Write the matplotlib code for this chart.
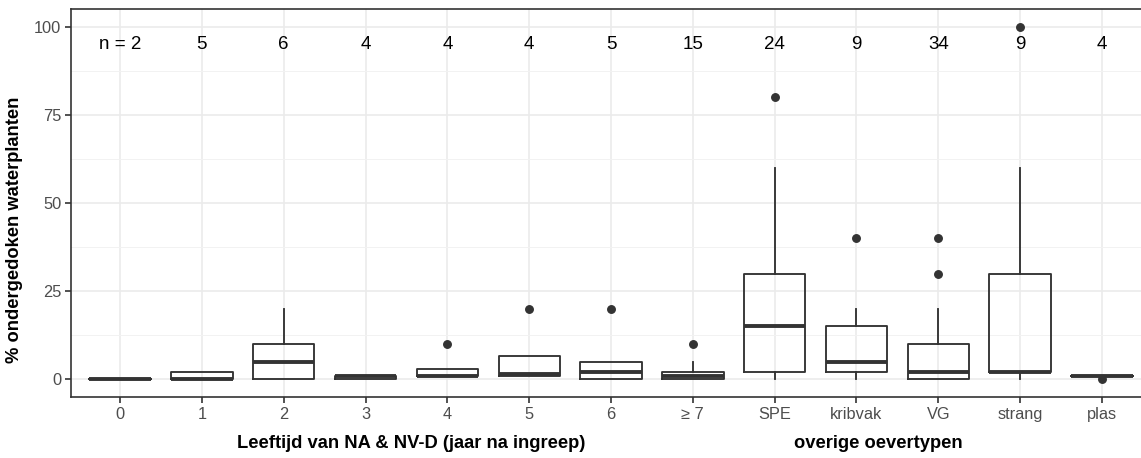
import matplotlib
matplotlib.use("Agg")
import matplotlib.pyplot as plt
from matplotlib.ticker import MultipleLocator

plt.rcParams["font.family"] = ["Liberation Sans", "DejaVu Sans"]

categories = ["0", "1", "2", "3", "4", "5", "6", "\u2265 7",
              "SPE", "kribvak", "VG", "strang", "plas"]
n_obs = [2, 5, 6, 4, 4, 4, 5, 15, 24, 9, 34, 9, 4]

# box statistics per category (% cover)
whis_lo = [0, 0, 0, 0, 1, 1, 0, 0, 0, 0, 0, 0, 1]
q1 = [0, 0, 0, 0, 1, 1, 0, 0, 2, 2, 0, 2, 1]
median = [0, 0, 5, 1, 1, 1.5, 2, 1, 15, 5, 2, 2, 1]
q3 = [0, 2, 10, 1, 3, 6.5, 5, 2, 30, 15, 10, 30, 1]
whis_hi = [0, 2, 20, 1, 3, 6.5, 5, 5, 60, 20, 20, 60, 1]
outliers = [[], [], [], [], [10], [20], [20], [10],
            [80], [40], [30, 40], [100], [0]]

stats = []
for i, lab in enumerate(categories):
    stats.append(dict(label=lab, whislo=whis_lo[i], q1=q1[i], med=median[i],
                      q3=q3[i], whishi=whis_hi[i], fliers=outliers[i]))

dark = "#333333"
fig = plt.figure(figsize=(11.41, 4.58), dpi=100)
# panel runs slightly past the right edge of the figure
ax = fig.add_axes([71 / 1141, 61 / 458, 1080 / 1141, 388 / 458])

positions = list(range(len(categories)))
ax.bxp(stats, positions=positions, widths=0.75, showcaps=False,
       patch_artist=False,
       boxprops=dict(color=dark, linewidth=1.35),
       whiskerprops=dict(color=dark, linewidth=1.35),
       medianprops=dict(color=dark, linewidth=2.8, solid_capstyle="butt"),
       flierprops=dict(marker="o", markersize=5.4, markerfacecolor=dark,
                       markeredgecolor=dark, linestyle="none"),
       zorder=3)

for i, n in enumerate(n_obs):
    txt = f"n = {n}" if i == 0 else str(n)
    ax.text(i, 95, txt, ha="center", va="center", fontsize=13.5, color="black")

ax.set_xlim(-0.6, len(categories) - 0.4)
ax.set_ylim(-5, 105)
ax.set_xticks(positions)
ax.set_xticklabels(categories)
ax.yaxis.set_major_locator(MultipleLocator(25))
ax.yaxis.set_minor_locator(MultipleLocator(12.5))

ax.grid(True, which="major", color="#EBEBEB", linewidth=1.2, zorder=0)
ax.grid(True, which="minor", axis="y", color="#F2F2F2", linewidth=0.7, zorder=0)
ax.set_axisbelow(True)
ax.tick_params(axis="both", which="major", length=4, width=1.2, color=dark,
               labelsize=11.8, labelcolor="#4D4D4D", pad=3)
ax.tick_params(axis="y", which="minor", length=0)
for sp in ax.spines.values():
    sp.set_color(dark)
    sp.set_linewidth(1.2)

ax.set_ylabel("% ondergedoken waterplanten", fontsize=13.2, fontweight="bold")
ax.yaxis.set_label_coords(-0.0445, 0.43)
fig.text(411 / 1141, 1 - 443 / 458, "Leeftijd van NA & NV-D (jaar na ingreep)",
         ha="center", va="center", fontsize=13.2, fontweight="bold")
fig.text(878 / 1141, 1 - 443 / 458, "overige oevertypen",
         ha="center", va="center", fontsize=13.2, fontweight="bold")

fig.savefig("out.png", dpi=100, facecolor="white")
